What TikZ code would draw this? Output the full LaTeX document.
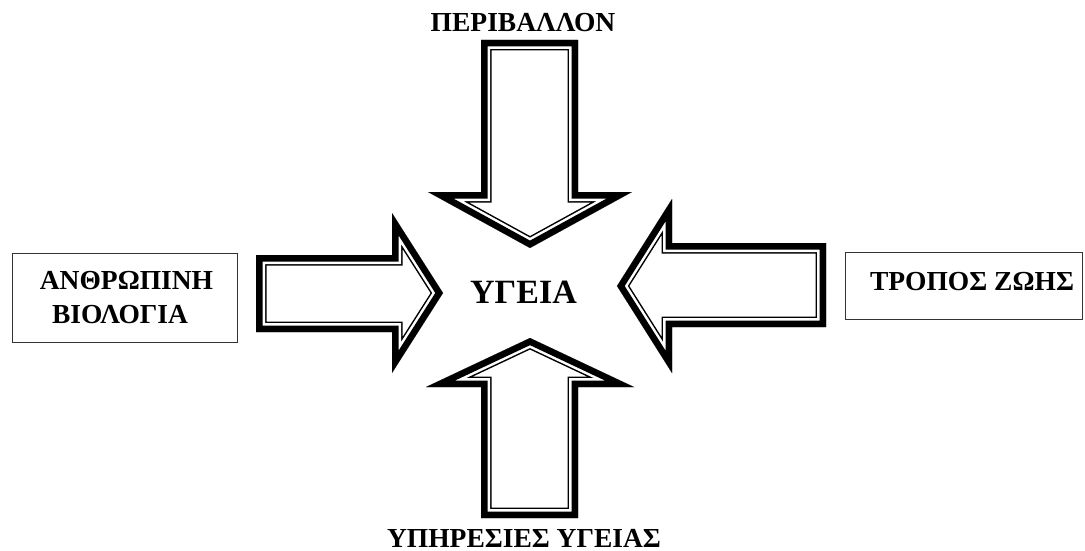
\documentclass[tikz,border=0pt]{standalone}
\usepackage{fontspec}
\setmainfont{Liberation Serif}
\newcommand{\fatarrow}[1]{%
  \begin{scope}
    \clip #1;
    \draw[line width=21pt] #1;
    \draw[white,line width=18pt] #1;
    \draw[line width=13pt] #1;
  \end{scope}}
\begin{document}
\begin{tikzpicture}[x=1pt,y=-1pt,line join=miter,
  lbl/.style={font=\fontsize{27.5}{32}\selectfont\bfseries,inner sep=0pt,anchor=base},
  big/.style={font=\fontsize{34}{38}\selectfont\bfseries,inner sep=0pt,anchor=base},
  boxst/.style={draw=black!80,line width=1pt,inner sep=0pt}]
\useasboundingbox (0,0) rectangle (1085,551);
% arrows
\fatarrow{(481,40) -- (578,40) -- (578,192) -- (632,192) -- (530,248) -- (428,192) -- (481,192) -- cycle}
\fatarrow{(530,338) -- (634,387) -- (578,387) -- (578,518) -- (481,518) -- (481,387) -- (426,387) -- cycle}
\fatarrow{(256,255) -- (392,255) -- (392,213) -- (443,293) -- (392,373) -- (392,332) -- (256,332) -- cycle}
\fatarrow{(617,286) -- (672,199) -- (672,243) -- (826,243) -- (826,327) -- (672,327) -- (672,373) -- cycle}
% boxes
\node[boxst,minimum width=225pt,minimum height=89pt] (lbox) at (124.5,297.5) {};
\node[boxst,minimum width=237pt,minimum height=67pt] (rbox) at (963.5,285.5) {};
% texts
\node[lbl] (env) at (523,32) {ΠΕΡΙΒΑΛΛΟΝ};
\node[big] (health) at (523.5,303) {ΥΓΕΙΑ};
\node[lbl] (serv) at (524,547) {ΥΠΗΡΕΣΙΕΣ ΥΓΕΙΑΣ};
\node[lbl] (bio1) at (126.5,289) {ΑΝΘΡΩΠΙΝΗ};
\node[lbl] (bio2) at (120,323) {ΒΙΟΛΟΓΙΑ};
\node[lbl] (life) at (972,290) {ΤΡΟΠΟΣ ΖΩΗΣ};
\end{tikzpicture}
\end{document}
